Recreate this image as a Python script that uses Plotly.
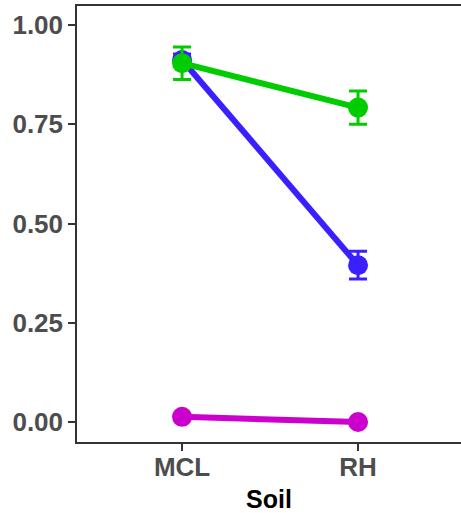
import plotly.graph_objects as go

soil = ["MCL", "RH"]
magenta_vals = [0.013, 0.0]
magenta_err = [0.0, 0.0]
blue_vals = [0.912, 0.395]
blue_err = [0.015, 0.035]
green_vals = [0.904, 0.792]
green_err = [0.041, 0.042]

series = [
    ("magenta", magenta_vals, magenta_err, "#CC00CC"),
    ("blue", blue_vals, blue_err, "#3A1FFF"),
    ("green", green_vals, green_err, "#00CC00"),
]

fig = go.Figure()
for name, vals, err, col in series:
    fig.add_trace(go.Scatter(
        x=[1, 2], y=vals, mode="lines+markers", name=name,
        line=dict(color=col, width=6),
        marker=dict(color=col, size=20),
        error_y=dict(type="data", array=err, visible=any(e > 0 for e in err),
                     color=col, thickness=3, width=9),
        showlegend=False,
    ))

fig.update_layout(
    width=461, height=513,
    margin=dict(l=77, r=0, t=6, b=71),
    paper_bgcolor="white", plot_bgcolor="white",
    font=dict(family="Liberation Sans, Arial, sans-serif"),
    annotations=[dict(text="<b>Soil</b>", x=0.5, xref="paper",
                      y=-(499 - 442) / 436, yref="paper", yanchor="middle",
                      borderpad=0, showarrow=False,
                      font=dict(size=25, color="black"))],
)
fig.update_xaxes(
    range=[0.403, 2.585], tickvals=[1, 2], ticktext=soil,
    showgrid=False, zeroline=False, automargin=False,
    showline=True, linecolor="#333333", linewidth=1.5, mirror=True,
    ticks="outside", ticklen=7, tickwidth=1.5, tickcolor="#333333",
    ticklabelstandoff=-6,
    tickfont=dict(size=26, color="#4D4D4D", weight="bold"),
)
fig.update_yaxes(
    range=[-0.0504, 1.048], tickvals=[0, 0.25, 0.5, 0.75, 1.0],
    ticktext=["0.00", "0.25", "0.50", "0.75", "1.00"],
    showgrid=False, zeroline=False, automargin=False,
    showline=True, linecolor="#333333", linewidth=1.5,
    ticks="outside", ticklen=7, tickwidth=1.5, tickcolor="#333333",
    tickfont=dict(size=26, color="#4D4D4D", weight="bold"),
)
fig.write_html("out.html", config={"displayModeBar": False},
               post_script="document.body.style.margin='0';")
